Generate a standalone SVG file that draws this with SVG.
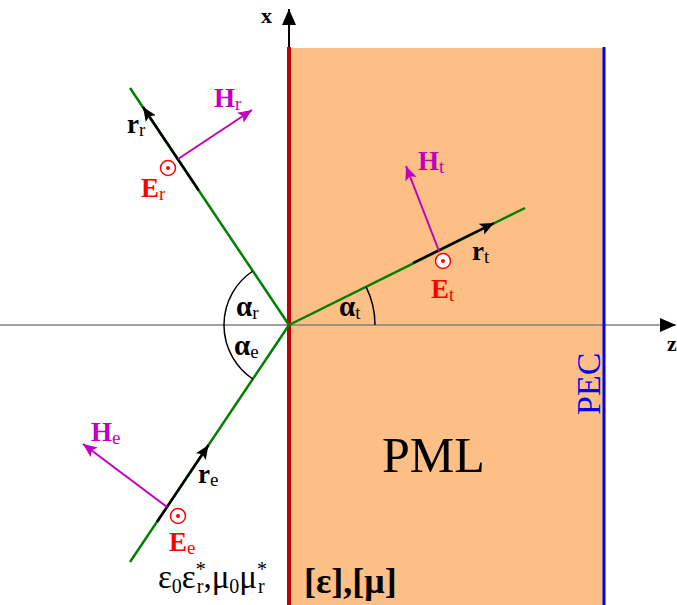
<svg xmlns="http://www.w3.org/2000/svg" width="677" height="605" viewBox="0 0 677 605">
<style>
text{font-family:"Liberation Serif","Times New Roman",serif}
.b{font-weight:bold}
.lbl{font-size:27px;font-weight:bold}
.al{font-size:29px;font-weight:bold}
.sub{font-size:19px;font-weight:normal}
.red{fill:#ff0000}
.pur{fill:#c000c0}
.ray{stroke:#008000;stroke-width:2.5;fill:none}
.blk{stroke:#000;stroke-width:2.5;fill:none}
.hv{stroke:#c000c0;stroke-width:2;fill:none}
.arc{stroke:#000;stroke-width:1.5;fill:none}
.ec{fill:#fff;stroke:#ff0000;stroke-width:1.5}
</style>
<defs>
<marker id="ab" markerUnits="userSpaceOnUse" markerWidth="16" markerHeight="12" refX="14" refY="6" orient="auto"><path d="M0,0 L14,6 L0,12 L3,6 Z" fill="#000"/></marker>
<marker id="ap" markerUnits="userSpaceOnUse" markerWidth="16" markerHeight="12" refX="14" refY="6" orient="auto"><path d="M0,0 L14,6 L0,12 L3,6 Z" fill="#c000c0"/></marker>
<marker id="ax" markerUnits="userSpaceOnUse" markerWidth="18" markerHeight="14" refX="16" refY="7" orient="auto"><path d="M0,0 L16,7 L0,14 Z" fill="#000"/></marker>
</defs>
<rect width="677" height="605" fill="#fff"/>
<g id="pml">
<rect x="289" y="48" width="315" height="557" fill="#fdbf85"/>
<text x="382" y="472" font-size="50">PML</text>
<text x="304" y="593" class="b" font-size="36">[ε],[μ]</text>
</g>
<g id="axes">
<line x1="0" y1="325" x2="676" y2="325" stroke="#808080" stroke-width="1.5" marker-end="url(#ax)"/>
<line x1="289" y1="48" x2="289" y2="9" stroke="#000" stroke-width="2" marker-end="url(#ax)"/>
<text x="261" y="23" class="b" font-size="22">x</text>
<text x="667" y="351" class="b" font-size="22">z</text>
</g>
<g id="interface">
<line x1="289" y1="47" x2="289" y2="605" stroke="#c00000" stroke-width="4"/>
</g>
<g id="pec">
<line x1="604" y1="47" x2="604" y2="605" stroke="#0000ff" stroke-width="3"/>
<text transform="translate(600,415) rotate(-90)" font-size="34" fill="#0000ff">PEC</text>
</g>
<g id="connectors">
<line class="ray" x1="289" y1="325" x2="130" y2="88"/>
<line class="ray" x1="289" y1="325" x2="130" y2="562"/>
<line class="ray" x1="289" y1="325" x2="525" y2="208"/>
<line class="blk" x1="198.8" y1="190.5" x2="143" y2="107" marker-end="url(#ab)"/>
<line class="blk" x1="157" y1="522" x2="208.5" y2="445" marker-end="url(#ab)"/>
<line class="blk" x1="413" y1="263" x2="494" y2="223" marker-end="url(#ab)"/>
<line class="hv" x1="178" y1="159" x2="252" y2="110" marker-end="url(#ap)"/>
<line class="hv" x1="439" y1="251" x2="406" y2="166" marker-end="url(#ap)"/>
<line class="hv" x1="167" y1="507" x2="83" y2="444" marker-end="url(#ap)"/>
<path class="arc" d="M252.8,271 A65,65 0 0 0 252.8,379"/>
<path class="arc" d="M375,325 A86,86 0 0 0 366.1,286.8"/>
</g>
<g id="reflected">
<circle class="ec" cx="168" cy="168" r="7.5"/><circle cx="168" cy="168" r="2" fill="#ff0000"/>
<text x="141" y="197" class="lbl red">E<tspan class="sub" dy="3">r</tspan></text>
<text x="214" y="107" class="lbl pur">H<tspan class="sub" dy="3">r</tspan></text>
<text x="127" y="133" class="lbl">r<tspan class="sub" dy="3">r</tspan></text>
<text x="236" y="316" class="al">α<tspan class="sub" dy="3">r</tspan></text>
</g>
<g id="incident">
<circle class="ec" cx="178" cy="516" r="7.5"/><circle cx="178" cy="516" r="2" fill="#ff0000"/>
<text x="169" y="551" class="lbl red">E<tspan class="sub" dy="3">e</tspan></text>
<text x="91" y="441" class="lbl pur">H<tspan class="sub" dy="3">e</tspan></text>
<text x="198" y="483" class="lbl">r<tspan class="sub" dy="3">e</tspan></text>
<text x="234" y="355" class="al">α<tspan class="sub" dy="3">e</tspan></text>
</g>
<g id="transmitted">
<circle class="ec" cx="443" cy="261" r="7.5"/><circle cx="443" cy="261" r="2" fill="#ff0000"/>
<text x="431" y="298" class="lbl red">E<tspan class="sub" dy="3">t</tspan></text>
<text x="418" y="170" class="lbl pur">H<tspan class="sub" dy="3">t</tspan></text>
<text x="472" y="260" class="lbl">r<tspan class="sub" dy="3">t</tspan></text>
<text x="339" y="316" class="al">α<tspan class="sub" dy="3">t</tspan></text>
</g>
<g id="vacuum">
<text x="158" y="588" font-size="33">ε<tspan font-size="20" dy="5">0</tspan><tspan dy="-5">ε</tspan><tspan font-size="20" dy="-12">*</tspan><tspan font-size="20" dx="-9" dy="17">r</tspan><tspan dy="-5">,μ</tspan><tspan font-size="20" dy="5">0</tspan><tspan dy="-5">μ</tspan><tspan font-size="20" dy="-12">*</tspan><tspan font-size="20" dx="-9" dy="17">r</tspan></text>
</g>
</svg>
